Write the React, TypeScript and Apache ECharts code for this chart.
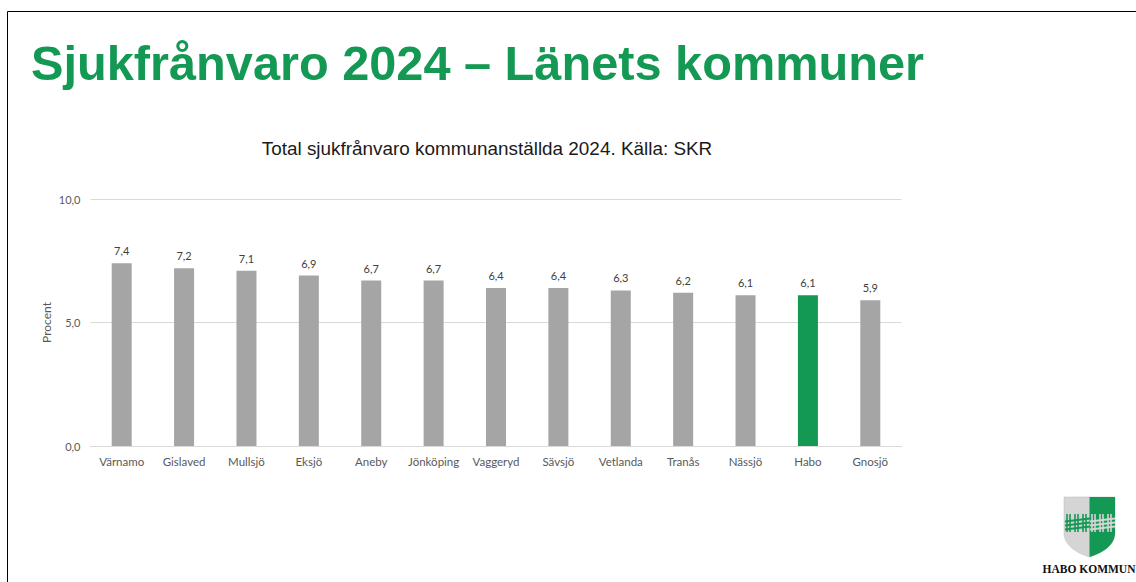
import React, { useEffect, useRef } from "react";
import * as echarts from "echarts";

const categories = ["Värnamo", "Gislaved", "Mullsjö", "Eksjö", "Aneby", "Jönköping", "Vaggeryd", "Sävsjö", "Vetlanda", "Tranås", "Nässjö", "Habo", "Gnosjö"];
const values = [7.4, 7.2, 7.1, 6.9, 6.7, 6.7, 6.4, 6.4, 6.3, 6.2, 6.1, 6.1, 5.9];
const highlighted = "Habo";
const slideTitle = "Sjukfrånvaro 2024 – Länets kommuner";
const chartTitle = "Total sjukfrånvaro kommunanställda 2024. Källa: SKR";
const yAxisName = "Procent";
const logoText = "HABO KOMMUN";

const GREEN = "#149954";
const GREY = "#a5a5a5";

echarts.graphic.registerShape("shieldFull", echarts.graphic.extendPath("M0 0 L50 0 L50 36 C50 48 38 56 25 60 C12 56 0 48 0 36 Z", {}) as any);
echarts.graphic.registerShape("shieldRight", echarts.graphic.extendPath("M25 0 L50 0 L50 36 C50 48 38 56 25 60 Z", {}) as any);

const fmt = (v: number) => v.toFixed(1).replace(".", ",");

function fence(x0: number, color: string) {
  const els: any[] = [];
  [2, 10, 18].forEach((dx) => {
    els.push({ type: "line", silent: true, shape: { x1: x0 + dx, y1: 514, x2: x0 + dx, y2: 532 }, style: { stroke: color, lineWidth: 1.6 } });
    els.push({ type: "line", silent: true, shape: { x1: x0 + dx + 3, y1: 514, x2: x0 + dx + 3, y2: 532 }, style: { stroke: color, lineWidth: 1.6 } });
  });
  [520, 524, 528].forEach((y) => {
    els.push({ type: "line", silent: true, shape: { x1: x0, y1: y + 1.5, x2: x0 + 25, y2: y - 1.5 }, style: { stroke: color, lineWidth: 2 } });
  });
  return els;
}

export default function App() {
  const ref = useRef<HTMLDivElement>(null);
  useEffect(() => {
    const chart = echarts.init(ref.current!, undefined, { renderer: "svg" });
    chart.setOption({
      animation: false,
      backgroundColor: "#ffffff",
      title: [
        { text: slideTitle, left: 26, top: 33, textStyle: { fontFamily: "Liberation Sans", fontWeight: "bold", fontSize: 48.7, color: GREEN } },
        { text: chartTitle, left: 482, textAlign: "center", top: 134, textStyle: { fontFamily: "Liberation Sans", fontWeight: "normal", fontSize: 18.9, color: "#1a1a1a" } },
      ],
      grid: { left: 90.5, top: 199, width: 811, height: 247, containLabel: false },
      xAxis: {
        type: "category",
        data: categories,
        axisTick: { show: false },
        axisLine: { lineStyle: { color: "#d9d9d9", width: 1 } },
        axisLabel: { fontFamily: "Lato", fontSize: 11.5, color: "#595959", margin: 9, interval: 0 },
      },
      yAxis: {
        type: "value",
        min: 0,
        max: 10,
        interval: 5,
        name: yAxisName,
        nameLocation: "middle",
        nameGap: 38,
        nameMoveOverlap: false,
        nameTextStyle: { fontFamily: "Lato", fontSize: 12, color: "#595959" },
        axisLine: { show: false },
        axisTick: { show: false },
        splitLine: { lineStyle: { color: "#d9d9d9", width: 1 } },
        axisLabel: { fontFamily: "Lato", fontSize: 11, color: "#595959", margin: 10, formatter: (v: number) => fmt(v) },
      },
      series: [
        {
          type: "bar",
          barWidth: 20,
          data: categories.map((c, i) => ({
            value: values[i],
            itemStyle: { color: c === highlighted ? GREEN : GREY },
          })),
          label: {
            show: true,
            position: "top",
            distance: 7,
            fontFamily: "Lato",
            fontSize: 11,
            color: "#404040",
            formatter: (p: any) => fmt(p.value),
          },
        },
      ],
      graphic: [
        { type: "line", silent: true, shape: { x1: 7.5, y1: 11.5, x2: 1136, y2: 11.5 }, style: { stroke: "#000", lineWidth: 1 } },
        { type: "line", silent: true, shape: { x1: 7.5, y1: 11.5, x2: 7.5, y2: 582 }, style: { stroke: "#000", lineWidth: 1 } },
        { type: "shieldFull", silent: true, x: 1064, y: 497, scaleX: 1.02, scaleY: 1, style: { fill: "#d5d5d5", stroke: "#bdbdbd", lineWidth: 0.5 } },
        { type: "shieldRight", silent: true, x: 1064, y: 497, scaleX: 1.02, scaleY: 1, style: { fill: GREEN } },
        ...fence(1065, GREEN),
        ...fence(1090, "#d5d5d5"),
        { type: "text", silent: true, style: { text: logoText, x: 1089, y: 569, align: "center", verticalAlign: "middle", fontFamily: "Liberation Serif", fontWeight: "bold", fontSize: 11.5, fill: "#111" } },
      ],
    });
    return () => chart.dispose();
  }, []);
  return <div ref={ref} style={{ position: "fixed", left: 0, top: 0, width: 1136, height: 582 }} />;
}
